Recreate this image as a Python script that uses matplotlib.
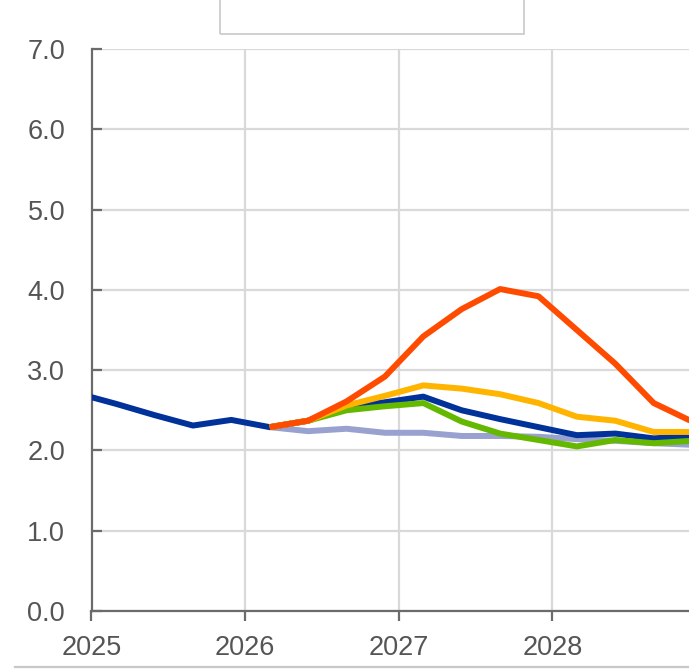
import numpy as np
import matplotlib.pyplot as plt
from matplotlib.patches import Rectangle
from matplotlib.lines import Line2D

plt.rcParams['font.family'] = ['Liberation Sans', 'DejaVu Sans']

# quarterly observation positions (fractional years)
base_x = [2024.91, 2025.16, 2025.41, 2025.66, 2025.91, 2026.16, 2026.41, 2026.66,
          2026.91, 2027.16, 2027.41, 2027.66, 2027.91, 2028.16, 2028.41, 2028.66, 2028.91]
base_y = [2.71, 2.58, 2.44, 2.31, 2.38, 2.29, 2.37, 2.54, 2.60, 2.67, 2.50, 2.39,
          2.29, 2.19, 2.21, 2.15, 2.18]

scen_x = [2026.16, 2026.41, 2026.66, 2026.91, 2027.16, 2027.41, 2027.66, 2027.91,
          2028.16, 2028.41, 2028.66, 2028.91]
purple_y = [2.29, 2.24, 2.27, 2.22, 2.22, 2.18, 2.18, 2.17, 2.14, 2.12, 2.09, 2.07]
green_y = [2.29, 2.37, 2.50, 2.55, 2.59, 2.36, 2.21, 2.13, 2.05, 2.13, 2.09, 2.12]
yellow_y = [2.29, 2.37, 2.56, 2.68, 2.81, 2.77, 2.70, 2.59, 2.42, 2.37, 2.23, 2.23]
red_y = [2.29, 2.37, 2.61, 2.92, 3.42, 3.76, 4.01, 3.92, 3.50, 3.08, 2.59, 2.36]

year_ticks = [2025, 2026, 2027, 2028]
y_ticks = [0, 1, 2, 3, 4, 5, 6, 7]

fig = plt.figure(figsize=(6.89, 6.71), dpi=100)
ax = fig.add_axes([91.5 / 689, 1 - 611 / 671, 1 - 91.5 / 689 + 0.0005, (611 - 49) / 671])

lw = 4.3
ax.plot(scen_x, purple_y, color='#98a1d0', linewidth=lw, solid_capstyle='butt', zorder=3)
ax.plot(base_x, base_y, color='#003299', linewidth=lw, solid_capstyle='butt', zorder=4)
ax.plot(scen_x, green_y, color='#65b800', linewidth=lw, solid_capstyle='butt', zorder=5)
ax.plot(scen_x, yellow_y, color='#ffb400', linewidth=lw, solid_capstyle='butt', zorder=6)
ax.plot(scen_x, red_y, color='#ff4b00', linewidth=lw, solid_capstyle='butt', zorder=7)

ax.set_xlim(2025, 2028.892)
ax.set_ylim(0, 7)
ax.set_xticks(year_ticks)
ax.set_xticklabels([str(y) for y in year_ticks])
ax.set_yticks(y_ticks)
ax.set_yticklabels([f'{v:.1f}' for v in y_ticks])

ax.grid(True, color='#d9d9d9', linewidth=1.6, zorder=0)
ax.set_axisbelow(True)

for s in ['top', 'right']:
    ax.spines[s].set_visible(False)
for s in ['left', 'bottom']:
    ax.spines[s].set_color('#6b6b6b')
    ax.spines[s].set_linewidth(1.6)

ax.tick_params(axis='y', direction='in', length=7, width=1.6, color='#6b6b6b',
               labelsize=19.5, labelcolor='#555555', pad=19)
ax.tick_params(axis='x', direction='out', length=7, width=1.6, color='#6b6b6b',
               labelsize=19.5, labelcolor='#555555', pad=10)

# clipped legend box at the top and the separator line at the bottom
fig.add_artist(Rectangle((220 / 689, 1 - 34 / 671), (524 - 220) / 689, 0.2,
                         transform=fig.transFigure, fill=False,
                         edgecolor='#c8c8c8', linewidth=1.2))
fig.add_artist(Line2D([15 / 689, 1.0], [1 - 667 / 671, 1 - 667 / 671],
                      transform=fig.transFigure, color='#c8c8c8', linewidth=1.6))

fig.savefig('out.png', dpi=100)
